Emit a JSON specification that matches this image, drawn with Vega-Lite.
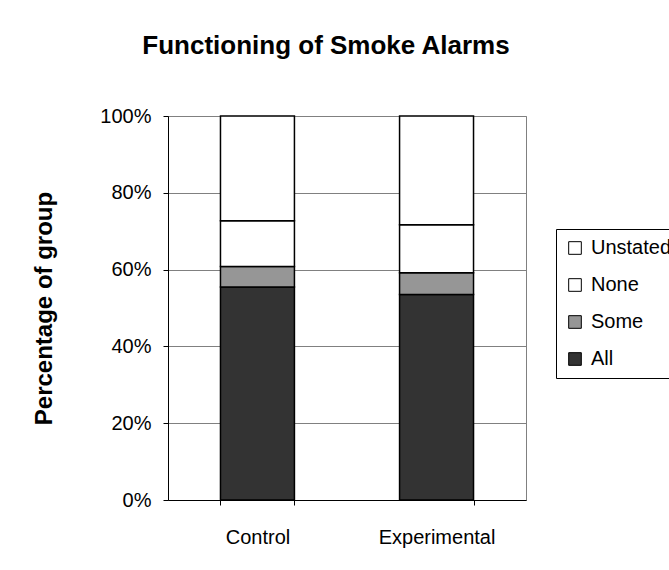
{
  "$schema": "https://vega.github.io/schema/vega-lite/v6.json",
  "width": 358,
  "height": 384,
  "autosize": {"type": "none"},
  "padding": {"left": 168, "top": 116, "right": 143, "bottom": 70},
  "background": "white",
  "title": {
    "text": "Functioning of Smoke Alarms",
    "font": "Liberation Sans",
    "fontSize": 26,
    "fontWeight": "bold",
    "color": "black",
    "anchor": "middle",
    "baseline": "alphabetic",
    "offset": 26,
    "dx": -21
  },
  "data": {
    "values": [
      {"group": "Control", "status": "All", "rank": 1, "share": 0.555},
      {"group": "Control", "status": "Some", "rank": 2, "share": 0.053},
      {"group": "Control", "status": "None", "rank": 3, "share": 0.119},
      {"group": "Control", "status": "Unstated", "rank": 4, "share": 0.273},
      {"group": "Experimental", "status": "All", "rank": 1, "share": 0.535},
      {"group": "Experimental", "status": "Some", "rank": 2, "share": 0.057},
      {"group": "Experimental", "status": "None", "rank": 3, "share": 0.125},
      {"group": "Experimental", "status": "Unstated", "rank": 4, "share": 0.283}
    ]
  },
  "mark": {"type": "bar", "stroke": "black", "strokeWidth": 1.5},
  "encoding": {
    "x": {
      "field": "group",
      "type": "nominal",
      "sort": ["Control", "Experimental"],
      "scale": {"paddingInner": 0.587, "paddingOuter": 0.293},
      "axis": {
        "title": null,
        "labelAngle": 0,
        "labelFont": "Liberation Sans",
        "labelFontSize": 20,
        "labelColor": "black",
        "labelPadding": 22,
        "tickBand": "extent",
        "tickColor": "black",
        "tickSize": 5,
        "domainColor": "black",
        "domainWidth": 1,
        "grid": false
      }
    },
    "y": {
      "field": "share",
      "type": "quantitative",
      "stack": "zero",
      "scale": {"domain": [0, 1], "nice": false},
      "axis": {
        "title": "Percentage of group",
        "titleFont": "Liberation Sans",
        "titleFontSize": 24,
        "titleFontWeight": "bold",
        "titleColor": "black",
        "titleAngle": 270,
        "titleAlign": "center",
        "titleBaseline": "middle",
        "titleX": -124,
        "titleY": 192,
        "values": [0, 0.2, 0.4, 0.6, 0.8, 1],
        "format": ".0%",
        "labelFont": "Liberation Sans",
        "labelFontSize": 20,
        "labelColor": "black",
        "labelPadding": 12,
        "tickColor": "black",
        "tickSize": 5,
        "domainColor": "black",
        "domainWidth": 1,
        "grid": true,
        "gridColor": "#808080",
        "gridWidth": 1
      }
    },
    "color": {
      "field": "status",
      "type": "nominal",
      "scale": {
        "domain": ["Unstated", "None", "Some", "All"],
        "range": ["#ffffff", "#ffffff", "#969696", "#333333"]
      },
      "legend": {
        "title": null,
        "orient": "none",
        "legendX": 388,
        "legendY": 113,
        "direction": "vertical",
        "symbolType": "square",
        "symbolSize": 160,
        "symbolStrokeColor": "black",
        "symbolStrokeWidth": 1,
        "symbolOpacity": 1,
        "labelFont": "Liberation Sans",
        "labelFontSize": 20,
        "labelColor": "black",
        "labelOffset": 6,
        "rowPadding": 17,
        "padding": 9,
        "strokeColor": "black",
        "fillColor": "white"
      }
    },
    "order": {"field": "rank", "type": "quantitative"}
  },
  "config": {
    "view": {"stroke": "#808080", "strokeWidth": 1},
    "axis": {"labelFont": "Liberation Sans"}
  }
}
